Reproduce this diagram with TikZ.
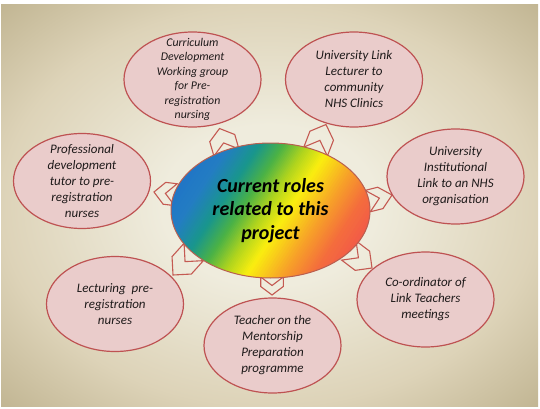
\documentclass[tikz,border=0pt]{standalone}
\usepackage{fontspec}
\setmainfont{Carlito}
\usetikzlibrary{shapes.geometric}
\definecolor{bgA}{RGB}{239,236,221}
\definecolor{bgB}{RGB}{221,211,184}
\definecolor{bgC}{RGB}{192,180,145}
\definecolor{pinkfill}{RGB}{234,204,203}
\definecolor{rimred}{RGB}{190,82,82}
\definecolor{chevred}{RGB}{196,90,82}
\definecolor{coreline}{RGB}{185,95,80}
\definecolor{inkc}{RGB}{30,26,26}
\definecolor{gA}{RGB}{30,110,200}
\definecolor{gA2}{RGB}{35,125,195}
\definecolor{gB}{RGB}{25,150,140}
\definecolor{gC}{RGB}{75,178,70}
\definecolor{gD}{RGB}{175,212,30}
\definecolor{gE}{RGB}{250,238,15}
\definecolor{gF}{RGB}{247,162,40}
\definecolor{gG}{RGB}{244,110,60}
\definecolor{gH}{RGB}{240,72,82}
\pgfdeclareradialshading{bgshade}{\pgfpoint{0bp}{0bp}}{color(0bp)=(bgA); color(10bp)=(bgA); color(25bp)=(bgB); color(36bp)=(bgC); color(50bp)=(bgC)}
\newcommand\gradseg[4]{%
  \foreach \k in {0,...,11}{%
    \pgfmathsetmacro\xa{#1+(#2-#1)*\k/12}%
    \pgfmathsetmacro\xb{#1+(#2-#1)*(\k+1)/12+0.8}%
    \pgfmathtruncatemacro\pc{(\k+0.5)*100/12}%
    \fill[#4!\pc!#3] (\xa,-170) rectangle (\xb,170);
  }}
\newcommand\chev[6]{%
  \begin{scope}[shift={(#1,#2)}, rotate=#3]
    \draw[chevline] (0,0) -- (-#5,#6) -- (-#4,#6) -- ({-#4+#5},0) -- (-#4,-#6) -- (-#5,-#6) -- cycle;
  \end{scope}}
\tikzset{
  role/.style={ellipse, draw=rimred, fill=pinkfill, line width=1.2pt, minimum width=137pt, minimum height=95pt, inner sep=0pt},
  roletext/.style={align=center, text=inkc, inner sep=0pt, font=\fontsize{13}{16}\selectfont\itshape},
  smalltext/.style={roletext, font=\fontsize{11.8}{14.5}\selectfont\itshape},
  chevline/.style={draw=chevred, line width=1.1pt, line join=miter},
  coretext/.style={align=center, text=black, inner sep=0pt, font=\fontsize{20}{23.5}\selectfont\bfseries\itshape},
}
\begin{document}
\begin{tikzpicture}[x=1pt, y=-1pt]
\useasboundingbox (0,0) rectangle (540,409);
\fill[white] (0,0) rectangle (540,409);
\shade[shading=bgshade] (1,5) rectangle (538,406);

% chevron connectors (tip x, tip y, angle, length, tip depth, half width)
\chev{219.5}{128.5}{106}{25}{10}{13}
\chev{326}{124.5}{69}{29}{12}{12.6}
\chev{154}{192}{173}{22}{10.5}{11}
\chev{173}{275}{228}{31}{13}{13}
\chev{272}{295}{270}{18}{8.5}{11.3}
\chev{372}{268}{-37}{29}{12}{12}
\chev{392}{195}{14}{25}{12}{11}

% outer roles
\node[role] (cur) at (192.5,79.5) {};
\node[smalltext] (curt) at (cur) {Curriculum\\Development\\Working group\\for Pre-\\registration\\nursing};
\node[role] (ulink) at (354,79.5) {};
\node[roletext] (ulinkt) at (ulink) {University Link\\Lecturer to\\community\\NHS Clinics};
\node[role] (prof) at (82,181) {};
\node[roletext] (proft) at (prof) {Professional\\development\\tutor to pre-\\registration\\nurses};
\node[role] (uinst) at (455.5,176.5) {};
\node[roletext] (uinstt) at (uinst) {University\\Institutional\\Link to an NHS\\organisation};
\node[role] (lect) at (115,304) {};
\node[roletext] (lectt) at (lect) {Lecturing\ \ pre-\\registration\\nurses};
\node[role] (coord) at (425.5,299.5) {};
\node[roletext] (coordt) at (coord) {Co-ordinator of\\Link Teachers\\meetings};
\node[role] (teach) at (272.5,345.5) {};
\node[roletext] (teacht) at (teach) {Teacher on the\\Mentorship\\Preparation\\programme};

% central ellipse with rainbow fill
\coordinate (cen) at (270.5,210.5);
\begin{scope}
  \clip (cen) ellipse [x radius=99.5, y radius=67.5];
  \begin{scope}[shift={(cen)}, rotate=-33]
    \gradseg{-110}{-70}{gA}{gA2}
    \gradseg{-70}{-45}{gA2}{gB}
    \gradseg{-45}{-25}{gB}{gC}
    \gradseg{-25}{-5}{gC}{gD}
    \gradseg{-5}{15}{gD}{gE}
    \gradseg{15}{45}{gE}{gF}
    \gradseg{45}{70}{gF}{gG}
    \gradseg{70}{110}{gG}{gH}
  \end{scope}
\end{scope}
\node[ellipse, draw=coreline, line width=1pt, minimum width=199pt, minimum height=135pt, inner sep=0pt] (core) at (cen) {};
\node[coretext] (coret) at (core) {Current roles\\related to this\\project};
\end{tikzpicture}
\end{document}
